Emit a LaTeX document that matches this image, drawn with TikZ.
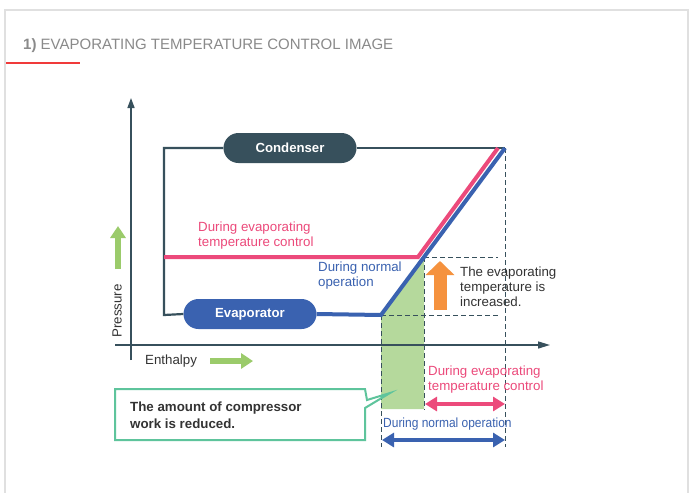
\documentclass[tikz,border=0pt]{standalone}
\usepackage{fontspec}
\setmainfont{Liberation Sans}
\usetikzlibrary{arrows.meta}
\definecolor{slate}{HTML}{37505C}
\definecolor{cblue}{HTML}{3A62B0}
\definecolor{cpink}{HTML}{EC4A7B}
\definecolor{gfill}{HTML}{B5D99C}
\definecolor{garrow}{HTML}{9BCB6B}
\definecolor{corange}{HTML}{F5923E}
\definecolor{callout}{HTML}{5EC49C}
\definecolor{tgrey}{HTML}{8A8A8A}
\definecolor{frame}{HTML}{E0E0E0}
\definecolor{ctext}{HTML}{333333}
\definecolor{ured}{HTML}{F03A3A}
\begin{document}
\begin{tikzpicture}[x=1pt,y=-1pt,
  pill/.style={rounded corners=15pt,minimum width=133pt,minimum height=30pt,inner sep=0pt,text=white,font=\fontsize{13.2}{15}\selectfont\bfseries},
  lbl/.style={anchor=west,align=left,inner sep=0pt,font=\fontsize{13.3}{15}\selectfont},
  cyc/.style={slate,line width=2.2pt},
  dsh/.style={slate,line width=1pt,dash pattern=on 5pt off 3pt},
  fat/.style={line width=4pt},
  dbl/.style={line width=4pt,{Triangle[length=12pt,width=14pt]}-{Triangle[length=12pt,width=14pt]}},
  garr/.style={garrow,line width=5.5pt,-{Triangle[length=12pt,width=15pt]}},
  oarr/.style={corange,line width=13pt,-{Triangle[length=14pt,width=28pt]}}
]
\useasboundingbox (0,0) rectangle (694,493);
\fill[white] (0,0) rectangle (694,493);
% frame
\draw[frame,line width=2pt] (5,493) -- (5,10) -- (688,10) -- (688,493);
\node[anchor=west,inner sep=0pt,text=tgrey,font=\fontsize{15}{17}\selectfont] (title) at (23,46) {\textbf{1)} EVAPORATING TEMPERATURE CONTROL IMAGE};
\coordinate (ul1) at (6,63); \coordinate (ul2) at (80,63);
\draw[ured,line width=1.3pt] (ul1) -- (ul2);

% coordinates
\coordinate (TL) at (164,148);
\coordinate (BL) at (164,315);
\coordinate (TR) at (505,148);
\coordinate (PTR) at (498,148);
\coordinate (B1) at (381,315);
\coordinate (P1) at (418,257);
\coordinate (PL) at (164,257);
\coordinate (G1) at (424,257);
\coordinate (Gb1) at (381,409);
\coordinate (Gb2) at (424,409);

% green area
\fill[gfill] (Gb1) -- (B1) -- (G1) -- (Gb2) -- cycle;

% axes
\coordinate (ya) at (131,360); \coordinate (yb) at (131,98);
\coordinate (xa) at (115,345); \coordinate (xb) at (550,345);
\draw[slate,line width=1.5pt,-{Triangle[length=10pt,width=7pt]}] (ya) -- (yb);
\draw[slate,line width=1.5pt,-{Triangle[length=12pt,width=7pt]}] (xa) -- (xb);

% dashed helpers
\coordinate (d1) at (381,447); \coordinate (d2) at (424,410); \coordinate (d3) at (505,447);
\coordinate (h1) at (498,257); \coordinate (h2) at (498,315);
\draw[dsh] (B1) -- (d1);
\draw[dsh] (G1) -- (d2);
\draw[dsh] (TR) -- (d3);
\draw[dsh] (G1) -- (h1);
\draw[dsh] (B1) -- (h2);

% cycle
\node[pill,fill=slate] (cond) at (290,148) {Condenser};
\node[pill,fill=cblue] (evap) at (250,314) {Evaporator};
\draw[cyc] (cond.west) -- (TL) -- (BL) -- (evap.west);
\draw[cyc] (cond.east) -- (TR);
\draw[cpink,fat] (PL) -- (P1) -- (PTR);
\draw[cblue,fat] (evap.east) -- (B1) -- (TR);

% labels
\node[lbl,text=cpink] (pinklbl) at (198,236) {During evaporating\\temperature control};
\node[lbl,text=cblue] (bluelbl) at (318,276) {During normal\\operation};
\node[lbl,text=ctext] (incr) at (460,287) {The evaporating\\temperature is\\increased.};
\coordinate (oa) at (440,310); \coordinate (ob) at (440,261);
\draw[oarr] (oa) -- (ob);

% axis labels
\coordinate (ga) at (118,269); \coordinate (gb) at (118,226);
\draw[garr] (ga) -- (gb);
\node[inner sep=0pt,rotate=90,text=ctext,font=\fontsize{13.3}{15}\selectfont] (press) at (117,311) {Pressure};
\node[lbl,text=ctext] (enth) at (145,361) {Enthalpy};
\coordinate (ea) at (210,361); \coordinate (eb) at (253,361);
\draw[garr] (ea) -- (eb);

% callout
\coordinate (c1) at (115,389); \coordinate (c2) at (365,389);
\coordinate (c3) at (367,400); \coordinate (tip) at (390,393);
\coordinate (c4) at (365,408); \coordinate (c5) at (365,440);
\coordinate (c6) at (115,440);
\draw[callout,line width=2pt,fill=white] (c1) -- (c2) -- (c3) -- (tip) -- (c4) -- (c5) -- (c6) -- cycle;
\node[lbl,text=ctext,font=\fontsize{13.3}{17}\selectfont\bfseries] (work) at (130,415) {The amount of compressor\\work is reduced.};

% ranges
\coordinate (pa) at (425,404); \coordinate (pb) at (505,404);
\draw[cpink,dbl] (pa) -- (pb);
\node[lbl,text=cpink] (pinklbl2) at (428,380) {During evaporating\\temperature control};
\coordinate (ba) at (382,440); \coordinate (bb) at (505,440);
\draw[cblue,dbl] (ba) -- (bb);
\node[lbl,text=cblue] (bluelbl2) at (383,424) {\scalebox{0.9}[1]{During normal operation}};
\end{tikzpicture}
\end{document}
